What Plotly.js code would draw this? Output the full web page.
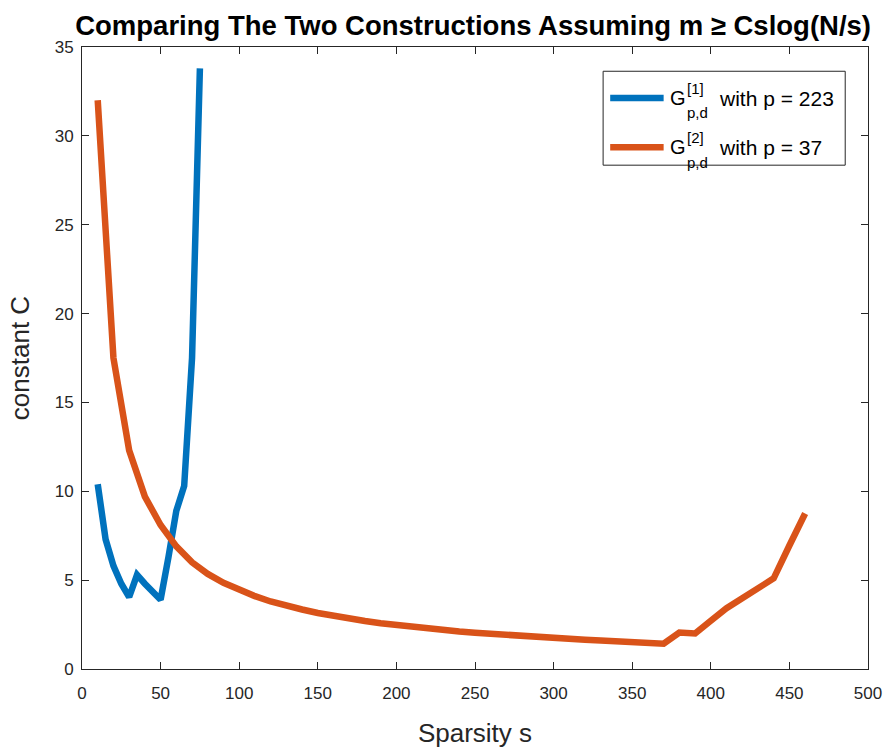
<!DOCTYPE html>
<html>
<head>
<meta charset="utf-8">
<script src="https://cdn.plot.ly/plotly-3.0.1.min.js"></script>
<style>html,body{margin:0;padding:0;background:#fff;}#chart{width:891px;height:749px;}</style>
</head>
<body>
<div id="chart"></div>
<script>
// Series 1: G^[1]_{p,d} with p = 223
const sparsity1 = [10, 15, 20, 25, 30, 35, 40, 45, 50, 55, 60, 65, 70, 75];
const constC1   = [10.4, 7.3, 5.8, 4.8, 4.05, 5.3, 4.8, 4.35, 3.9, 6.3, 8.9, 10.3, 17.5, 33.8];

// Series 2: G^[2]_{p,d} with p = 37
const sparsity2 = [10, 20, 30, 40, 50, 60, 70, 80, 90, 100,
                   110, 120, 130, 140, 150, 160, 170, 180, 190, 200,
                   210, 220, 230, 240, 250, 260, 270, 280, 290, 300,
                   310, 320, 330, 340, 350, 360, 370, 380, 390, 400,
                   410, 420, 430, 440, 450, 460];
const constC2   = [32.0, 17.5, 12.3, 9.7, 8.1, 6.9, 6.0, 5.35, 4.85, 4.45,
                   4.1, 3.8, 3.55, 3.35, 3.15, 2.98, 2.83, 2.70, 2.58, 2.47,
                   2.37, 2.28, 2.19, 2.11, 2.04, 1.97, 1.91, 1.85, 1.79, 1.74,
                   1.69, 1.64, 1.60, 1.56, 1.52, 1.48, 1.42, 2.05, 2.0, 2.72,
                   3.42, 3.98, 4.54, 5.1, 6.95, 8.75];

const seriesLabels = ['G', 'G'];
const seriesSup = ['[1]', '[2]'];
const seriesSub = ['p,d', 'p,d'];
const seriesTail = ['with p = 223', 'with p = 37'];
const seriesColors = ['#0072BD', '#D95319'];
const xTicks = [0, 50, 100, 150, 200, 250, 300, 350, 400, 450, 500];
const yTicks = [0, 5, 10, 15, 20, 25, 30, 35];

const axisColor = '#262626';
const fontFamily = 'Liberation Sans, Arial, sans-serif';

const traces = [
  {x: sparsity1, y: constC1, type: 'scatter', mode: 'lines',
   name: 'G[1]p,d with p = 223', showlegend: false,
   line: {color: seriesColors[0], width: 6.5}},
  {x: sparsity2, y: constC2, type: 'scatter', mode: 'lines',
   name: 'G[2]p,d with p = 37', showlegend: false,
   line: {color: seriesColors[1], width: 6.5}}
];

const axisCommon = {
  showgrid: false, zeroline: false, showline: true, linecolor: axisColor, linewidth: 1,
  mirror: 'ticks', ticks: 'inside', ticklen: 7, tickcolor: axisColor, tickwidth: 1,
  tickfont: {family: fontFamily, size: 17, color: axisColor}, automargin: false
};

// Custom legend (box, sample lines, stacked super/subscripts), in paper coordinates
const legendBox = {x0: 0.663, x1: 0.971, y0: 0.810, y1: 0.961};
const legendRowsY = [0.918, 0.839];
const shapes = [{type: 'rect', xref: 'paper', yref: 'paper',
  x0: legendBox.x0, x1: legendBox.x1, y0: legendBox.y0, y1: legendBox.y1,
  line: {color: axisColor, width: 1}, fillcolor: '#ffffff', layer: 'above'}];
const annotations = [];
legendRowsY.forEach((ry, i) => {
  shapes.push({type: 'line', xref: 'paper', yref: 'paper', x0: 0.672, x1: 0.740, y0: ry, y1: ry,
    line: {color: seriesColors[i], width: 6.5}, layer: 'above'});
  annotations.push({xref: 'paper', yref: 'paper', x: 0.7455, y: ry, xanchor: 'left', yanchor: 'middle',
    text: seriesLabels[i], showarrow: false, font: {family: fontFamily, size: 20, color: '#000'}});
  annotations.push({xref: 'paper', yref: 'paper', x: 0.767, y: ry + 0.016, xanchor: 'left', yanchor: 'middle',
    text: seriesSup[i], showarrow: false, font: {family: fontFamily, size: 15, color: '#000'}});
  annotations.push({xref: 'paper', yref: 'paper', x: 0.767, y: ry - 0.024, xanchor: 'left', yanchor: 'middle',
    text: seriesSub[i], showarrow: false, font: {family: fontFamily, size: 15, color: '#000'}});
  annotations.push({xref: 'paper', yref: 'paper', x: 0.808, y: ry, xanchor: 'left', yanchor: 'middle',
    text: seriesTail[i], showarrow: false, font: {family: fontFamily, size: 21, color: '#000'}});
});

const layout = {
  width: 891, height: 749,
  margin: {l: 82, r: 23, t: 47, b: 80},
  paper_bgcolor: '#ffffff', plot_bgcolor: '#ffffff',
  font: {family: fontFamily, color: axisColor},
  title: {text: '<b>Comparing The Two Constructions Assuming m ≥ Cslog(N/s)</b>',
          font: {family: fontFamily, size: 27.5, color: '#000000'},
          x: 0.531, xanchor: 'center', y: 0.966, yanchor: 'middle', yref: 'container'},
  xaxis: Object.assign({}, axisCommon, {
    range: [0, 500], tickvals: xTicks, ticktext: xTicks.map(String), ticklabelstandoff: 9,
    title: {text: 'Sparsity s', font: {family: fontFamily, size: 26, color: axisColor}, standoff: 21}
  }),
  yaxis: Object.assign({}, axisCommon, {
    range: [0, 35], tickvals: yTicks, ticktext: yTicks.map(String), ticklabelstandoff: 4,
    title: {text: 'constant C', font: {family: fontFamily, size: 26, color: axisColor}, standoff: 17}
  }),
  showlegend: false,
  shapes: shapes,
  annotations: annotations
};

Plotly.newPlot('chart', traces, layout, {displayModeBar: false, staticPlot: true});
</script>
</body>
</html>
